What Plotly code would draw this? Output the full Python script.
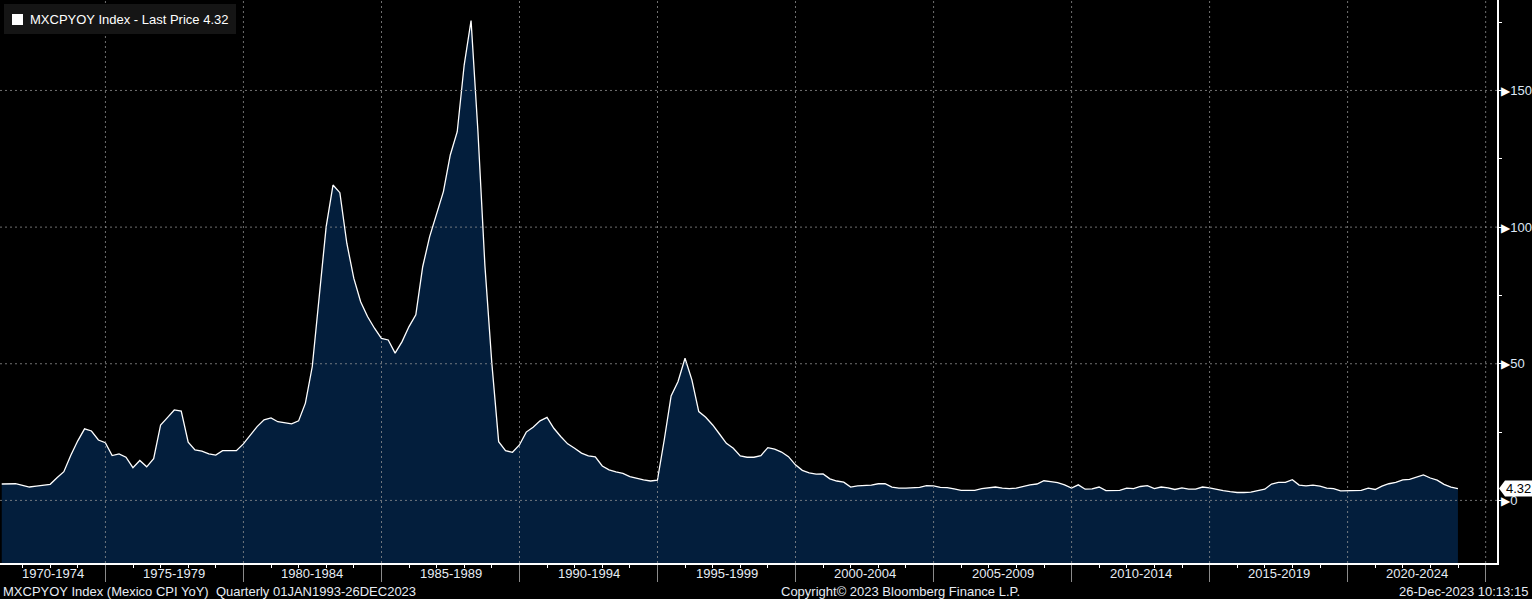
import pandas as pd
import plotly.graph_objects as go

# Mexico CPI YoY, quarterly 1971Q1 .. 2023Q4
TICKER = "MXCPYOY Index"
LAST_PRICE = 4.32
FIRST_QUARTER = "1971Q1"

CPI_YOY = [
    6.0, 6.1, 6.1, 5.5, 4.9, 5.2, 5.6, 5.9, 8.3, 10.5,
    16.5, 21.8, 26.2, 25.4, 22.1, 21.1, 16.4, 17.0, 15.8, 12.0,
    14.6, 12.3, 15.3, 27.6, 30.3, 33.1, 32.7, 21.3, 18.5, 18.0,
    17.0, 16.6, 18.2, 18.2, 18.2, 20.7, 24.0, 27.0, 29.5, 30.2,
    28.8, 28.3, 28.0, 29.1, 35.6, 49.0, 74.6, 100.2, 115.4, 112.6,
    94.1, 81.3, 72.7, 67.3, 63.0, 59.3, 58.7, 53.9, 58.1, 63.6,
    67.9, 85.5, 96.5, 105.1, 113.0, 126.4, 134.9, 159.3, 175.6, 135.0,
    86.0, 50.1, 21.5, 18.2, 17.6, 20.3, 25.0, 26.8, 29.1, 30.4,
    26.4, 23.4, 20.7, 19.1, 17.3, 16.3, 15.9, 12.6, 11.2, 10.4,
    9.9, 8.7, 8.0, 7.5, 7.1, 7.4, 22.1, 38.2, 43.5, 52.0,
    44.1, 32.5, 30.4, 27.6, 24.3, 20.9, 19.1, 16.3, 15.8, 15.8,
    16.4, 19.3, 18.8, 17.7, 16.0, 13.0, 11.0, 10.1, 9.6, 9.7,
    7.9, 7.1, 6.7, 4.9, 5.3, 5.4, 5.6, 6.1, 6.1, 4.9,
    4.5, 4.5, 4.7, 4.8, 5.4, 5.3, 4.8, 4.7, 4.2, 3.7,
    3.7, 3.7, 4.3, 4.5, 4.9, 4.5, 4.3, 4.5, 5.2, 5.7,
    6.0, 7.2, 6.9, 6.5, 5.7, 4.5, 5.7, 4.1, 4.2, 4.9,
    3.6, 3.7, 3.7, 4.5, 4.3, 5.1, 5.4, 4.3, 4.9, 4.6,
    4.0, 4.6, 4.1, 4.1, 4.9, 4.6, 4.0, 3.6, 3.2, 2.9,
    2.9, 3.0, 3.6, 4.1, 6.0, 6.6, 6.6, 7.6, 5.6, 5.3,
    5.6, 5.2, 4.5, 4.3, 3.5, 3.5, 3.7, 3.7, 4.5, 4.0,
    5.2, 6.1, 6.6, 7.5, 7.7, 8.6, 9.3, 8.2, 7.4, 5.9,
    4.9, LAST_PRICE,
]

PERIOD_STARTS = ["1970-01-01", "1975-01-01", "1980-01-01", "1985-01-01", "1990-01-01",
                 "1995-01-01", "2000-01-01", "2005-01-01", "2010-01-01", "2015-01-01",
                 "2020-01-01", "2025-01-01"]
PERIOD_LABELS = ["1970-1974", "1975-1979", "1980-1984", "1985-1989", "1990-1994",
                 "1995-1999", "2000-2004", "2005-2009", "2010-2014", "2015-2019",
                 "2020-2024"]

Y_TICKS = [0, 50, 100, 150]
Y_RANGE = [-22.9, 183.1]
X_RANGE = ["1971-03-08", "2025-05-31"]

FOOT_LEFT = "MXCPYOY Index (Mexico CPI YoY)  Quarterly 01JAN1993-26DEC2023"
FOOT_MID = "Copyright\u00a9 2023 Bloomberg Finance L.P."
FOOT_RIGHT = "26-Dec-2023 10:13:15"

# look
W, H = 1532, 599
M_R, M_B = 35, 36
PW, PH = W - M_R, H - M_B
BG = "#000000"
FILL = "#031e3c"
GRID = "rgba(150,150,150,0.75)"
TXT = "#e6ecf4"
FONT = "Liberation Sans"

dates = pd.period_range(FIRST_QUARTER, periods=len(CPI_YOY), freq="Q").to_timestamp(how="end").normalize()
floor = [Y_RANGE[0]] * len(CPI_YOY)

fig = go.Figure()

# invisible floor so the area runs down to the bottom of the panel
fig.add_trace(go.Scatter(x=dates, y=floor, mode="lines", line=dict(width=0),
                         hoverinfo="skip", showlegend=False))
fig.add_trace(go.Scatter(
    x=dates, y=CPI_YOY, mode="lines", fill="tonexty", fillcolor=FILL,
    line=dict(color="#ffffff", width=1.3), name=TICKER, showlegend=False,
    hovertemplate="%{x|%b %Y}<br>%{y:.2f}<extra></extra>",
))

shapes = []
# dotted grid drawn above the area, like the terminal does
for d in PERIOD_STARTS[1:]:
    shapes.append(dict(type="line", xref="x", yref="paper", x0=d, x1=d, y0=0, y1=1,
                       line=dict(color=GRID, width=1, dash="2px,3px"), layer="above"))
for v in Y_TICKS:
    shapes.append(dict(type="line", xref="paper", yref="y", x0=0, x1=1, y0=v, y1=v,
                       line=dict(color=GRID, width=1, dash="2px,3px"), layer="above"))

# legend box top-left
shapes.append(dict(type="rect", xref="paper", yref="paper",
                   x0=4 / PW, x1=236 / PW, y0=(PH - 34) / PH, y1=(PH - 4) / PH,
                   fillcolor="#151515", line=dict(width=0), layer="above"))
shapes.append(dict(type="rect", xref="paper", yref="paper",
                   x0=12 / PW, x1=23 / PW, y0=(PH - 25) / PH, y1=(PH - 14) / PH,
                   fillcolor="#ffffff", line=dict(width=0), layer="above"))
# last price tag on the right axis
shapes.append(dict(type="path", xref="paper", yref="y", xsizemode="pixel", ysizemode="pixel",
                   xanchor=1, yanchor=LAST_PRICE,
                   path="M 2 0 L 8 8 L 40 8 L 40 -8 L 8 -8 Z",
                   fillcolor="#ffffff", line=dict(width=0), layer="above"))

ann = [
    dict(text=f"{TICKER} - Last Price {LAST_PRICE:.2f}", xref="paper", yref="paper",
         x=28 / PW, y=(PH - 19.5) / PH, xanchor="left", yanchor="middle",
         showarrow=False, font=dict(color="#ffffff", size=13)),
    dict(text=f"{LAST_PRICE:.2f}", xref="paper", yref="y", x=1, y=LAST_PRICE,
         xanchor="center", yanchor="middle", xshift=21, showarrow=False,
         font=dict(color="#000000", size=13)),
    dict(text=FOOT_LEFT, xref="paper", yref="paper", x=0, y=0, xanchor="left",
         yanchor="top", xshift=1, yshift=-19, showarrow=False, font=dict(color=TXT, size=13)),
    dict(text=FOOT_MID, xref="paper", yref="paper", x=900 / PW, y=0, xanchor="center",
         yanchor="top", yshift=-19, showarrow=False, font=dict(color=TXT, size=13)),
    dict(text=FOOT_RIGHT, xref="paper", yref="paper", x=1, y=0, xanchor="right",
         yanchor="top", xshift=M_R - 2, yshift=-19, showarrow=False, font=dict(color=TXT, size=13)),
]

# period labels centred on the visible part of each 5-year block
x_lo, x_hi = pd.Timestamp(X_RANGE[0]), pd.Timestamp(X_RANGE[1])
for a, b, lab in zip(PERIOD_STARTS[:-1], PERIOD_STARTS[1:], PERIOD_LABELS):
    a, b = max(pd.Timestamp(a), x_lo), min(pd.Timestamp(b), x_hi)
    mid = a + (b - a) / 2
    ann.append(dict(text=lab, xref="x", yref="paper", x=mid, y=0, xanchor="center",
                    yanchor="top", yshift=-1, showarrow=False, font=dict(color=TXT, size=13)))

tri = "<span style='font-size:12px;color:#ffffff'>\u25b6</span>"

fig.update_layout(
    width=W, height=H,
    paper_bgcolor=BG, plot_bgcolor=BG,
    font=dict(family=FONT, color=TXT, size=13),
    margin=dict(l=0, r=M_R, t=0, b=M_B),
    showlegend=False,
    shapes=shapes,
    annotations=ann,
    xaxis=dict(
        type="date", range=X_RANGE, showgrid=False, zeroline=False,
        tickvals=PERIOD_STARTS, showticklabels=False,
        ticks="outside", ticklen=17, tickwidth=1, tickcolor="#8a8a8a",
        showline=True, linecolor="#ffffff", linewidth=1.5,
        minor=dict(dtick="M12", tick0="1970-01-01", ticks="outside", ticklen=3,
                   tickcolor="#ffffff", showgrid=False),
    ),
    yaxis=dict(
        side="right", range=Y_RANGE, showgrid=False, zeroline=False,
        tickvals=Y_TICKS, ticktext=[tri + str(v) for v in Y_TICKS],
        ticks="", showline=True, linecolor="#ffffff", linewidth=1.5,
        tickfont=dict(color="#dde7f5", size=13),
        minor=dict(dtick=25, tick0=0, ticks="outside", ticklen=3, tickcolor="#ffffff",
                   showgrid=False),
    ),
)

# the page is photographed at exactly W x H, so drop the default body margin
fig.write_html("out.html", config={"displayModeBar": False},
               post_script="document.body.style.margin='0';")
